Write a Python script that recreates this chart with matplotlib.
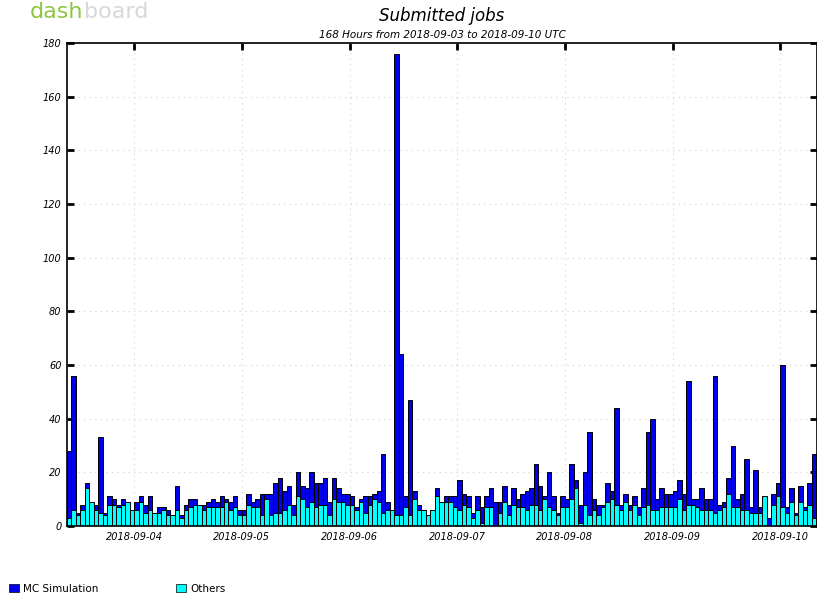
import matplotlib
matplotlib.use("Agg")
from matplotlib import pyplot as plt
from matplotlib.patches import Patch

# hourly bins, 2018-09-03 09:00 -> 2018-09-10 09:00 UTC
others = [3,6,4,6,14,9,6,5,4,8, 8,7,8,9,6,6,9,5,6,5,
          5,6,4,4,6,3,6,7,8,8, 6,7,7,7,7,9,6,7,4,4,
          8,7,7,4,10,4,5,5,6,8, 4,11,10,7,9,7,8,8,4,10,
          9,9,8,8,6,9,5,8,10,9, 5,6,6,4,4,7,4,10,6,6,
          4,6,11,9,9,9,7,6,8,7, 3,6,1,7,7,0,5,9,4,8,
          7,7,6,8,8,6,10,7,6,4, 7,7,10,14,1,8,4,6,4,7,
          9,10,8,6,9,6,8,4,7,8, 6,6,7,7,7,7,10,6,8,8,
          7,6,6,6,5,6,7,12,7,7, 6,6,5,5,5,11,0,8,11,7,
          5,9,4,9,6,8,3,3]

mc_simulation = [25,50,1,2,2,0,2,28,1,3, 2,1,2,0,0,3,2,3,5,0,
                 2,1,2,0,9,1,2,3,2,0, 2,2,3,2,4,1,3,4,2,2,
                 4,2,3,8,2,8,11,13,7,7, 4,9,5,7,11,9,8,10,5,8,
                 5,3,4,3,1,1,6,3,2,4, 22,3,0,172,60,4,43,3,2,0,
                 0,0,3,0,2,2,4,11,4,4, 2,5,6,4,7,9,4,6,4,6,
                 3,5,7,6,15,9,1,13,5,1, 4,3,13,3,7,12,31,4,4,1,
                 7,3,36,2,3,2,3,3,7,27, 34,4,7,5,5,6,7,6,46,2,
                 3,8,4,4,51,2,2,6,23,3, 6,19,2,16,2,0,3,4,5,53,
                 2,5,1,6,1,8,24,2]

tick_hours = [15, 39, 63, 87, 111, 135, 159]
tick_labels = ["2018-09-04", "2018-09-05", "2018-09-06", "2018-09-07",
               "2018-09-08", "2018-09-09", "2018-09-10"]

hours = [h + 0.5 for h in range(len(others))]

fig = plt.figure(figsize=(8.17, 6.0), dpi=100)
ax = fig.add_axes([67/817, 74/600, 1 - 67/817, 483/600])

ax.bar(hours, others, width=1.0, color="#00ffff", edgecolor="black", linewidth=0.7, label="Others")
ax.bar(hours, mc_simulation, width=1.0, bottom=others, color="#0000ee",
       edgecolor="black", linewidth=0.7, label="MC Simulation")

ax.set_xlim(0, 167.2)
ax.set_ylim(0, 180)
ax.set_yticks(range(0, 181, 20))
ax.set_xticks(tick_hours)
ax.set_xticklabels(tick_labels)
ax.set_axisbelow(True)
ax.grid(True, color="#d0d0d0", linestyle=(0, (1, 4)), linewidth=0.8)
ax.tick_params(direction="in", length=5, width=2, top=True, right=True,
               labelsize=7, pad=4)
for lab in ax.get_xticklabels() + ax.get_yticklabels():
    lab.set_style("italic")
for sp in ax.spines.values():
    sp.set_linewidth(1.2)

fig.text(442/817, 1 - 16/600, "Submitted jobs", ha="center", va="center",
         fontsize=12, style="italic")
fig.text(442/817, 1 - 35/600, "168 Hours from 2018-09-03 to 2018-09-10 UTC",
         ha="center", va="center", fontsize=7.5, style="italic")

# dashboard logo
fig.text(30/817, 1 - 18/600, "dash", color="#8dc63f", fontsize=16, va="baseline", ha="left")
fig.text(84/817, 1 - 18/600, "board", color="#d8d8d8", fontsize=16, va="baseline", ha="left")

handles = [Patch(facecolor="#0000ee", edgecolor="black", linewidth=0.5),
           Patch(facecolor="#00ffff", edgecolor="black", linewidth=0.5)]
fig.legend(handles, ["MC Simulation", "Others"], loc="lower left",
           bbox_to_anchor=(0.0, -0.005), ncol=2, frameon=False, fontsize=7.5,
           handlelength=0.9, handleheight=0.9, handletextpad=0.4, columnspacing=7.5)

fig.savefig("out.png", dpi=100)
